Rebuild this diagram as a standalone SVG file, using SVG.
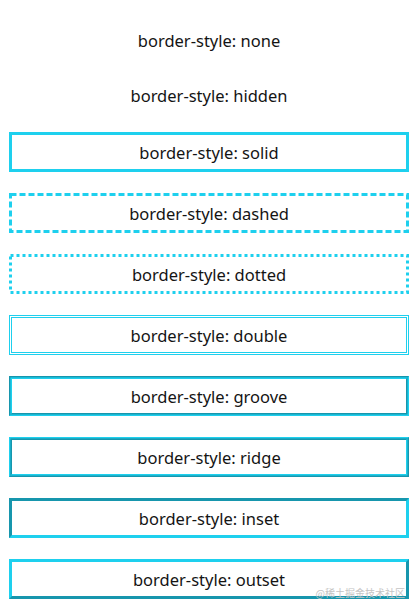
<svg xmlns="http://www.w3.org/2000/svg" width="420" height="613" viewBox="0 0 420 613">
<style>
.bg{fill:#ffffff}
.lt{fill:#1ed0ee}
.dk{fill:#1796ad}
.in{fill:#ffffff}
.st{fill:none;stroke:#1ed0ee;stroke-width:3}
.db{fill:none;stroke:#1ed0ee;stroke-width:1}
.t{font-family:"Noto Sans","Open Sans",sans-serif;font-size:16.5px;fill:#141414;text-anchor:middle}
.wm{font-family:"Noto Sans CJK SC","Noto Sans",sans-serif;font-size:10px;fill:#c4c4c4;text-anchor:end}
</style>
<rect class="bg" x="0" y="0" width="420" height="613"/>
<g id="node-none">
<text class="t" x="209" y="46.5">border-style: none</text>
</g>
<g id="node-hidden">
<text class="t" x="209" y="101.5">border-style: hidden</text>
</g>
<g id="node-solid">
<rect class="st" x="10.5" y="133.5" width="397" height="37"/>
<text class="t" x="209" y="158.5">border-style: solid</text>
</g>
<g id="node-dashed">
<rect class="st" x="10.5" y="194.5" width="397" height="37" stroke-dasharray="6 3"/>
<text class="t" x="209" y="219.5">border-style: dashed</text>
</g>
<g id="node-dotted">
<rect class="st" x="10.5" y="255.5" width="397" height="37" stroke-dasharray="3 3"/>
<text class="t" x="209" y="280.5">border-style: dotted</text>
</g>
<g id="node-double">
<rect class="db" x="9.5" y="315.5" width="399" height="39"/>
<rect class="db" x="11.5" y="317.5" width="395" height="35"/>
<text class="t" x="209" y="341.5">border-style: double</text>
</g>
<g id="node-groove">
<rect class="lt" x="9" y="376" width="400" height="40"/>
<polygon class="dk" points="9,376 409,376 407.5,377.5 10.5,377.5 10.5,414.5 9,416"/>
<rect class="dk" x="10.5" y="377.5" width="397" height="37"/>
<polygon class="lt" points="10.5,377.5 407.5,377.5 406,379 12,379 12,413 10.5,414.5"/>
<rect class="in" x="12" y="379" width="394" height="34"/>
<text class="t" x="209" y="402.5">border-style: groove</text>
</g>
<g id="node-ridge">
<rect class="dk" x="9" y="437" width="400" height="40"/>
<polygon class="lt" points="9,437 409,437 407.5,438.5 10.5,438.5 10.5,475.5 9,477"/>
<rect class="lt" x="10.5" y="438.5" width="397" height="37"/>
<polygon class="dk" points="10.5,438.5 407.5,438.5 406,440 12,440 12,474 10.5,475.5"/>
<rect class="in" x="12" y="440" width="394" height="34"/>
<text class="t" x="209" y="463.5">border-style: ridge</text>
</g>
<g id="node-inset">
<rect class="lt" x="9" y="498" width="400" height="40"/>
<polygon class="dk" points="9,498 409,498 406,501 12,501 12,535 9,538"/>
<rect class="in" x="12" y="501" width="394" height="34"/>
<text class="t" x="209" y="524.5">border-style: inset</text>
</g>
<g id="node-outset">
<rect class="dk" x="9" y="559" width="400" height="40"/>
<polygon class="lt" points="9,559 409,559 406,562 12,562 12,596 9,599"/>
<rect class="in" x="12" y="562" width="394" height="34"/>
<text class="t" x="209" y="585.5">border-style: outset</text>
</g>
<g id="connectors"/>
<text class="wm" x="405" y="597">@稀土掘金技术社区</text>
</svg>
